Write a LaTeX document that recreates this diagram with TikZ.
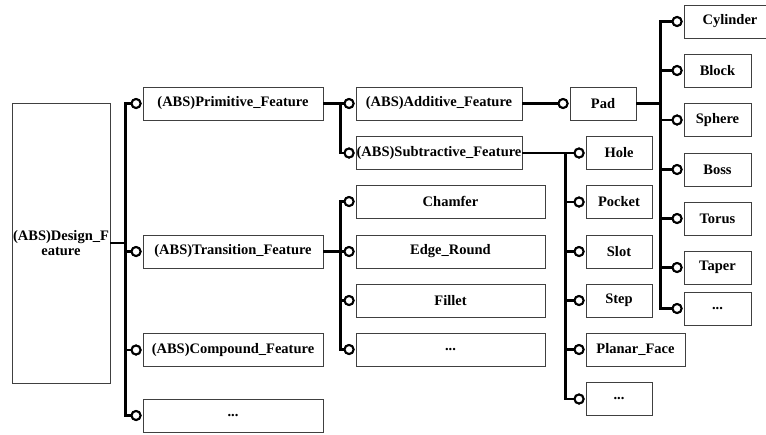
\documentclass[tikz,border=0pt]{standalone}
\usepackage{fontspec}
\setmainfont{Liberation Serif}
\begin{document}
\begin{tikzpicture}[x=1pt,y=-1pt,
  box/.style={draw=black!75, line width=0.9pt, fill=white, inner sep=0pt,
    minimum height=33pt, align=center,
    font=\bfseries\fontsize{14.5}{15.5}\selectfont},
  ball/.style={circle, draw=black, fill=white, line width=2pt,
    minimum size=9pt, inner sep=0pt, anchor=east},
  conn/.style={line width=2.4pt, draw=black}]
\useasboundingbox (0,0) rectangle (766,434);
\clip (0,0) rectangle (766,434);
% boxes
\node[box, minimum width=98pt, minimum height=280pt] (root) at (61,243) {(ABS)Design\_F\\eature};
\node[box, minimum width=180pt] (prim) at (233,103.5) {(ABS)Primitive\_Feature};
\node[box, minimum width=180pt] (trans) at (233,251.5) {(ABS)Transition\_Feature};
\node[box, minimum width=180pt] (comp) at (233,350) {(ABS)Compound\_Feature};
\node[box, minimum width=180pt] (dotsa) at (233,415.5) {...};
\node[box, minimum width=166pt] (add) at (439,103.5) {(ABS)Additive\_Feature};
\node[box, minimum width=166pt] (sub) at (439,153) {(ABS)Subtractive\_Feature};
\node[box, minimum width=189pt] (chamfer) at (450.5,201.5) {Chamfer};
\node[box, minimum width=189pt] (edge) at (450.5,251.5) {Edge\_Round};
\node[box, minimum width=189pt] (fillet) at (450.5,300.5) {Fillet};
\node[box, minimum width=189pt] (dotsb) at (450.5,349.5) {...};
\node[box, minimum width=66pt] (pad) at (603,103.5) {Pad};
\node[box, minimum width=66pt] (hole) at (619,153) {Hole};
\node[box, minimum width=66pt] (pocket) at (619,202) {Pocket};
\node[box, minimum width=66pt] (slot) at (619,251.5) {Slot};
\node[box, minimum width=66pt] (stepbox) at (619,300.5) {Step};
\node[box, minimum width=99pt] (planar) at (635.5,349.5) {Planar\_Face};
\node[box, minimum width=66pt] (dotsc) at (619,399) {...};
\node[box, minimum width=92pt] (cyl) at (730,21.5) {Cylinder};
\node[box, minimum width=67pt] (block) at (717.5,70.5) {Block};
\node[box, minimum width=67pt] (sphere) at (717.5,120) {Sphere};
\node[box, minimum width=67pt] (boss) at (717.5,169.5) {Boss};
\node[box, minimum width=67pt] (torus) at (717.5,218.5) {Torus};
\node[box, minimum width=67pt] (taper) at (717.5,267.5) {Taper};
\node[box, minimum width=67pt] (dotsd) at (717.5,308.5) {...};
% bus coordinates
\coordinate (b0) at ([xshift=15pt]root.east);
\coordinate (b1) at ([xshift=17pt]prim.east);
\coordinate (b2) at ([xshift=17pt]trans.east);
\coordinate (b3) at ([xshift=24pt]pad.east);
\coordinate (b4) at ([xshift=43pt]sub.east);
% circles (positions)
\foreach \n in {prim,trans,comp,dotsa,add,sub,chamfer,edge,fillet,dotsb,pad,hole,pocket,slot,stepbox,planar,dotsc,cyl,block,sphere,boss,torus,taper,dotsd}
  \node[ball] (c\n) at ([xshift=-1pt]\n.west) {};
% root connectors
\draw[conn] (root.east) -- (b0);
\draw[conn] (cprim.west) -| (b0 |- cdotsa.west) -- (cdotsa.west);
\draw[conn] (b0 |- ctrans.west) -- (ctrans.west);
\draw[conn] (b0 |- ccomp.west) -- (ccomp.west);
% primitive
\draw[conn] (prim.east) -- (cadd.west);
\draw[conn] (b1) |- (csub.west);
% transition
\draw[conn] (trans.east) -- (cedge.west);
\draw[conn] (cchamfer.west) -| (b2 |- cdotsb.west) -- (cdotsb.west);
\draw[conn] (b2 |- cfillet.west) -- (cfillet.west);
% additive
\draw[conn] (add.east) -- (cpad.west);
% pad
\draw[conn] (pad.east) -- (b3);
\draw[conn] (ccyl.west) -| (b3 |- cdotsd.west) -- (cdotsd.west);
\foreach \n in {block,sphere,boss,torus,taper}
  \draw[conn] (b3 |- c\n.west) -- (c\n.west);
% subtractive
\draw[conn] (sub.east) -- (chole.west);
\draw[conn] (b4) |- (cdotsc.west);
\foreach \n in {pocket,slot,stepbox,planar}
  \draw[conn] (b4 |- c\n.west) -- (c\n.west);
% circles on top of connectors
\foreach \n in {prim,trans,comp,dotsa,add,sub,chamfer,edge,fillet,dotsb,pad,hole,pocket,slot,stepbox,planar,dotsc,cyl,block,sphere,boss,torus,taper,dotsd}
  \draw[line width=2pt, fill=white] (c\n.center) circle (4.5pt);
\end{tikzpicture}
\end{document}
